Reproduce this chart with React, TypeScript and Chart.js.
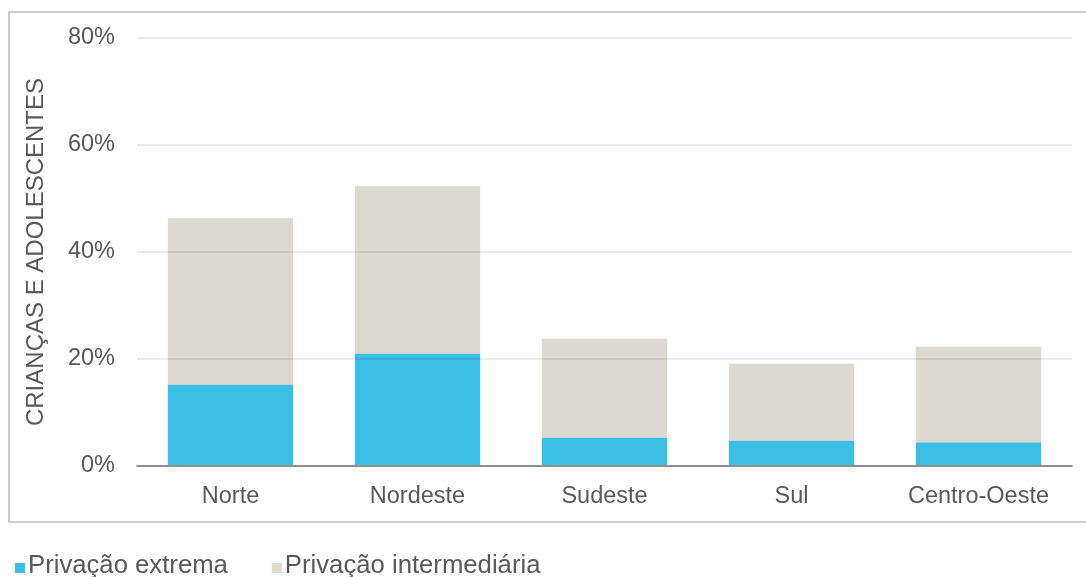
import React, { useEffect, useRef } from "react";
import { Chart, registerables } from "chart.js";

Chart.register(...registerables);

const categories = ["Norte", "Nordeste", "Sudeste", "Sul", "Centro-Oeste"];
const extremeValues = [15.2, 21.0, 5.3, 4.7, 4.4];
const intermediateValues = [31.1, 31.3, 18.5, 14.4, 17.9];
const seriesLabels = ["Privação extrema", "Privação intermediária"];
const yTicks = [0, 20, 40, 60, 80];
const yTitle = "CRIANÇAS E ADOLESCENTES";

const FONT = '"Liberation Sans", Arial, Helvetica, sans-serif';
const TEXT = "#595959";
const BLUE = "#3BBFE6";
const GRAY = "#DCD8D2";

const frameAndLegend = {
  id: "frameAndLegend",
  beforeDraw(chart: any) {
    const ctx = chart.ctx;
    ctx.save();
    ctx.strokeStyle = "#cccccc";
    ctx.lineWidth = 2;
    ctx.strokeRect(9, 12, 1090, 510);
    ctx.restore();
  },
  afterDraw(chart: any) {
    const ctx = chart.ctx;
    ctx.save();
    ctx.font = `25.7px ${FONT}`;
    ctx.textBaseline = "alphabetic";
    let x = 15;
    chart.data.datasets.forEach((ds: any) => {
      ctx.fillStyle = ds.backgroundColor;
      ctx.fillRect(x, 563, 10, 10);
      ctx.fillStyle = TEXT;
      ctx.fillText(ds.label, x + 13, 573);
      x += 13 + ctx.measureText(ds.label).width + 44;
    });
    ctx.restore();
  },
};

export default function App() {
  const ref = useRef<HTMLCanvasElement | null>(null);

  useEffect(() => {
    if (!ref.current) return;
    const chart = new Chart(ref.current, {
      type: "bar",
      data: {
        labels: categories,
        datasets: [
          {
            label: seriesLabels[0],
            data: extremeValues,
            backgroundColor: BLUE,
            barPercentage: 0.67,
            categoryPercentage: 1,
          },
          {
            label: seriesLabels[1],
            data: intermediateValues,
            backgroundColor: GRAY,
            barPercentage: 0.67,
            categoryPercentage: 1,
          },
        ],
      },
      options: {
        animation: false,
        responsive: false,
        devicePixelRatio: 1,
        layout: { padding: { left: 0, top: 38, right: 14, bottom: 55 } },
        plugins: {
          legend: { display: false },
          tooltip: { enabled: false },
        },
        scales: {
          x: {
            stacked: true,
            grid: { display: false, drawTicks: false },
            border: { display: true, color: "#bfbfbf", width: 2 },
            ticks: {
              color: TEXT,
              font: { family: FONT, size: 23.5 },
              padding: 16,
            },
            afterFit: (scale: any) => {
              scale.height = 56;
            },
          },
          y: {
            stacked: true,
            min: 0,
            max: 80,
            afterBuildTicks: (scale: any) => {
              scale.ticks = yTicks.map((v) => ({ value: v }));
            },
            grid: {
              z: 1,
              drawTicks: false,
              lineWidth: 2,
              color: (c: any) =>
                c.tick && c.tick.value === 0 ? "rgba(0,0,0,0.25)" : "rgba(0,0,0,0.08)",
            },
            border: { display: false },
            ticks: {
              color: TEXT,
              font: { family: FONT, size: 23.5 },
              padding: 22,
              callback: (v: any) => `${v}%`,
            },
            title: {
              display: true,
              text: yTitle,
              color: TEXT,
              font: { family: FONT, size: 24, lineHeight: 1.2 },
              padding: { top: 21.6, bottom: 0 },
            },
            afterFit: (scale: any) => {
              scale.width = 137;
            },
          },
        },
      },
      plugins: [frameAndLegend],
    });
    return () => chart.destroy();
  }, []);

  return (
    <div style={{ position: "absolute", left: 0, top: 0, width: 1086, height: 577, background: "#fff" }}>
      <canvas ref={ref} width={1086} height={577} style={{ display: "block" }} />
    </div>
  );
}
